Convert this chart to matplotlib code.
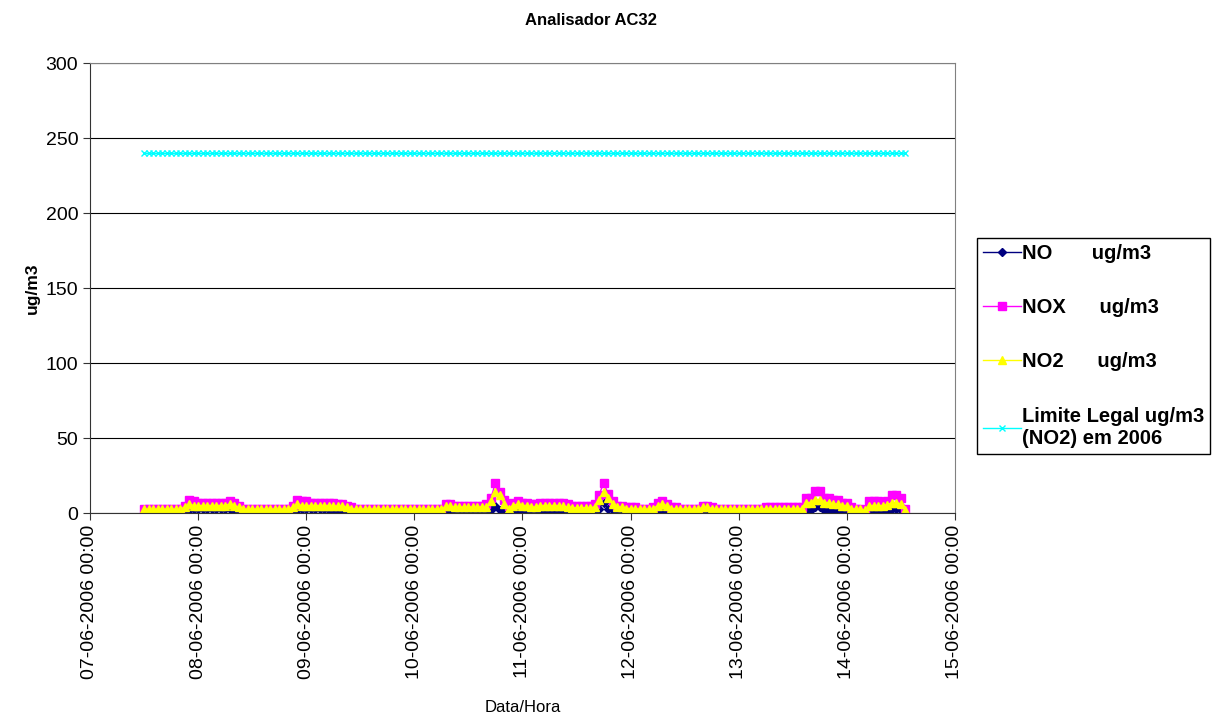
import numpy as np
import pandas as pd
import matplotlib
matplotlib.use("Agg")
import matplotlib.pyplot as plt
import matplotlib.dates as mdates

plt.rcParams['font.family'] = ['Liberation Sans', 'DejaVu Sans']

# hourly readings, starting 07-06-2006 12:00
start = "2006-06-07 12:00"

nox_07 = [3, 3, 3, 3, 3, 3, 3, 3, 3, 5, 9, 8]
nox_08 = [7, 7, 7, 7, 7, 7, 7, 8, 7, 5, 3, 3, 3, 3, 3, 3, 3, 3, 3, 3, 3, 5, 9, 8]
nox_09 = [8, 7, 7, 7, 7, 7, 7, 6, 6, 5, 4, 3, 3, 3, 3, 3, 3, 3, 3, 3, 3, 3, 3, 3]
nox_10 = [3, 3, 3, 3, 3, 3, 3, 6, 6, 5, 5, 5, 5, 5, 5, 5, 6, 10, 20, 14, 9, 5, 7, 8]
nox_11 = [7, 7, 6, 6, 7, 7, 7, 7, 7, 7, 6, 5, 5, 5, 5, 5, 6, 12, 20, 13, 8, 5, 5, 4]
nox_12 = [4, 4, 3, 3, 3, 4, 7, 8, 6, 4, 4, 3, 3, 3, 3, 3, 5, 5, 4, 3, 3, 3, 3, 3]
nox_13 = [3, 3, 3, 3, 3, 3, 4, 4, 4, 4, 4, 4, 4, 4, 4, 10, 10, 15, 15, 10, 10, 9, 9, 7]
nox_14 = [7, 4, 3, 3, 2, 8, 8, 8, 7, 8, 12, 12, 10, 3]

no2_07 = [2.5, 2.5, 2.5, 2.5, 2.5, 2.5, 2.5, 2.5, 2.5, 4, 6, 5]
no2_08 = [5, 5, 5, 5, 5, 5, 5, 6, 5, 4, 2.5, 2.5, 2.5, 2.5, 2.5, 2.5, 2.5, 2.5, 2.5, 2.5, 2.5, 4, 6, 5]
no2_09 = [5, 5, 5, 5, 5, 5, 5, 4.5, 4.5, 4, 3, 2.5, 2.5, 2.5, 2.5, 2.5, 2.5, 2.5, 2.5, 2.5, 2.5, 2.5, 2.5, 2.5]
no2_10 = [2.5, 2.5, 2.5, 2.5, 2.5, 2.5, 2.5, 4.5, 4.5, 4, 4, 4, 4, 4, 4, 4, 4, 8, 14, 12, 6, 3, 5, 6]
no2_11 = [5, 5, 4, 4, 5, 5, 5, 5, 5, 4.5, 4, 3.5, 3.5, 3.5, 3.5, 3.5, 4, 9, 14, 10, 6, 4, 4, 3]
no2_12 = [3, 3, 2.5, 2.5, 2.5, 3, 5, 6, 5, 3, 3, 2.5, 2.5, 2.5, 2.5, 2.5, 4, 4, 3, 2.5, 2.5, 2.5, 2.5, 2.5]
no2_13 = [2.5, 2.5, 2.5, 2.5, 2.5, 2.5, 3, 3, 3, 3, 3, 3, 3, 3, 3, 7, 7, 9, 9, 7, 7, 6, 6, 5]
no2_14 = [5, 3, 2.5, 2.5, 2, 5, 5, 5, 5, 5.5, 7, 7, 6, 2]

no_07 = [0.2, 0.2, 0.2, 0.2, 0.2, 0.2, 0.2, 0.2, 0.3, 1, 2, 2.5]
no_08 = [2.5, 3, 3, 3, 3, 3, 3, 2.5, 2, 1, 0.3, 0.2, 0.2, 0.2, 0.2, 0.2, 0.2, 0.2, 0.2, 0.2, 0.2, 1, 2, 2.5]
no_09 = [2.5, 2.5, 2.5, 2.5, 2.5, 2, 2, 2, 1.5, 1, 0.5, 0.2, 0.2, 0.2, 0.2, 0.2, 0.2, 0.2, 0.2, 0.2, 0.2, 0.2, 0.2, 0.2]
no_10 = [0.2, 0.2, 0.2, 0.2, 0.2, 0.2, 0.2, 1, 1, 1, 1, 1.5, 1.5, 1.5, 1.5, 1.5, 1.5, 2, 5, 2, 2, 1, 1.5, 1.5]
no_11 = [1.5, 1.5, 1, 1, 1.5, 1.5, 2, 2, 2, 2, 1.5, 1, 1, 1, 1, 1, 1.5, 3, 7, 3, 2, 1, 1, 0.5]
no_12 = [0.5, 0.5, 0.3, 0.3, 0.3, 0.5, 1.5, 3, 1.5, 0.5, 0.5, 0.3, 0.3, 0.3, 0.3, 0.3, 1, 1.5, 1, 0.3, 0.3, 0.3, 0.3, 0.3]
no_13 = [0.3, 0.3, 0.3, 0.3, 0.3, 0.3, 0.5, 0.5, 0.5, 0.5, 0.5, 0.5, 0.5, 0.5, 0.5, 2, 2, 4, 4, 2, 2, 2, 2, 1]
no_14 = [1, 0.5, 0.3, 0.3, 0.2, 1.5, 1.5, 1.5, 1, 1.5, 3, 3, 2, 1]

limit_value = 240

nox = nox_07 + nox_08 + nox_09 + nox_10 + nox_11 + nox_12 + nox_13 + nox_14
no2 = no2_07 + no2_08 + no2_09 + no2_10 + no2_11 + no2_12 + no2_13 + no2_14
no = no_07 + no_08 + no_09 + no_10 + no_11 + no_12 + no_13 + no_14
times = pd.date_range(start, periods=len(nox), freq="h")
limit = [limit_value] * len(nox)

labels = ["NO       ug/m3", "NOX      ug/m3", "NO2      ug/m3",
          "Limite Legal ug/m3\n(NO2) em 2006"]

fig = plt.figure(figsize=(12.24, 7.25), dpi=100)
ax = fig.add_axes([0.0735, 0.2924, 0.7067, 0.6206])

ax.plot(times, no, color="#000080", marker="D", markersize=4.5, linewidth=1, label=labels[0])
ax.plot(times, nox, color="#ff00ff", marker="s", markersize=5.5, linewidth=1, label=labels[1])
ax.plot(times, no2, color="#ffff00", marker="^", markersize=6, linewidth=1, label=labels[2])
ax.plot(times, limit, color="#00ffff", marker="x", markersize=5, linewidth=1, label=labels[3])

ax.set_ylim(0, 300)
ax.set_yticks(np.arange(0, 301, 50))
ax.yaxis.grid(True, color="black", linewidth=0.8)
ax.set_axisbelow(True)
ax.set_xlim(pd.Timestamp("2006-06-07"), pd.Timestamp("2006-06-15"))
ax.xaxis.set_major_locator(mdates.DayLocator())
ax.xaxis.set_major_formatter(mdates.DateFormatter("%d-%m-%Y %H:%M"))
for lbl in ax.get_xticklabels():
    lbl.set_rotation(90)

ax.tick_params(axis="both", labelsize=14, direction="out", length=5, color="#333333")
for side in ["top", "right"]:
    ax.spines[side].set_color("#808080")
for side in ["left", "bottom"]:
    ax.spines[side].set_color("#333333")

fig.text(0.483, 0.972, "Analisador AC32", fontsize=12, fontweight="bold", ha="center", va="center")
ax.set_ylabel("ug/m3", fontsize=12.5, fontweight="bold", labelpad=4)
ax.set_xlabel("Data/Hora", fontsize=12, labelpad=15)

leg = ax.legend(loc="upper left", bbox_to_anchor=(0.798, 0.672), bbox_transform=fig.transFigure,
                borderaxespad=0, prop={"weight": "bold", "size": 14.5}, fancybox=False,
                edgecolor="black", labelspacing=1.75, handlelength=1.9,
                handletextpad=0.05, borderpad=0.3, framealpha=1)
leg.get_frame().set_linewidth(1)

fig.savefig("out.png", dpi=100)
